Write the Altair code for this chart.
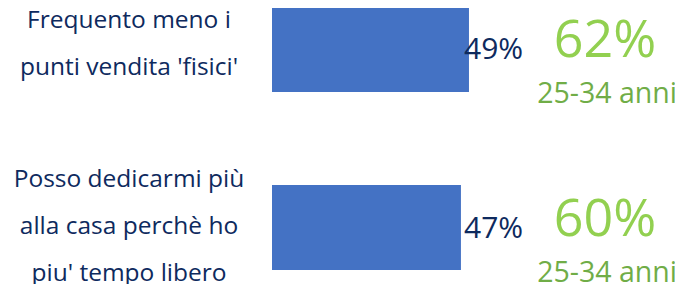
import altair as alt
import pandas as pd

# --- data ---
keys = ["a", "b"]
labels = [
    "Frequento meno i\npunti vendita 'fisici'",
    "Posso dedicarmi più\nalla casa perchè ho\npiu' tempo libero",
]
values = [49, 47]
young_values = [62, 60]
young_labels = ["25-34 anni", "25-34 anni"]

df = pd.DataFrame({
    "key": keys,
    "label": labels,
    "value": values,
    "value_txt": [f"{v}%" for v in values],
    "young_txt": [f"{v}%" for v in young_values],
    "age": young_labels,
})

FONT = "Open Sans"
NAVY = "#0E2A5E"
BAR = "#4472C4"
GREEN = "#92D050"
GREEN2 = "#70AD47"

y_enc = alt.Y("key:N", sort=keys, axis=None,
              scale=alt.Scale(range=[-1, 262], paddingInner=0.5225, paddingOuter=0))
x_scale = alt.Scale(domain=[0, 100], range=[264, 666])

base = alt.Chart(df)

bars = base.mark_bar(color=BAR).encode(
    y=y_enc,
    x=alt.X("value:Q", scale=x_scale, axis=None),
)

# value labels sit in a fixed column (they overlap the longer bar slightly)
value_lbl = base.mark_text(
    align="left", baseline="alphabetic", dy=10,
    font=FONT, fontSize=30, color=NAVY,
).encode(
    y=y_enc,
    x=alt.value(456),
    text="value_txt:N",
)

def cat_layer(key, dy):
    return base.transform_filter(alt.datum.key == key).mark_text(
        align="center", baseline="middle", dy=dy, lineBreak="\n", lineHeight=47,
        font=FONT, fontSize=24.5, color=NAVY,
    ).encode(
        y=y_enc,
        x=alt.value(121),
        text="label:N",
    )

cat_a = cat_layer("a", -28)
cat_b = cat_layer("b", -48)

big_lbl = base.mark_text(
    align="center", baseline="alphabetic", dy=8,
    font=FONT, fontSize=52, color=GREEN,
).encode(
    y=y_enc,
    x=alt.value(597),
    text="young_txt:N",
)

age_lbl = base.mark_text(
    align="center", baseline="alphabetic", dy=54,
    font=FONT, fontSize=28.5, color=GREEN2,
).encode(
    y=y_enc,
    x=alt.value(599),
    text="age:N",
)

chart = alt.layer(bars, value_lbl, cat_a, cat_b, big_lbl, age_lbl).properties(
    width=667, height=276,
    autosize=alt.AutoSizeParams(type="none"),
    padding=0,
).configure_view(stroke=None)

chart.save("out.html", embed_options={"renderer": "svg", "actions": False})
